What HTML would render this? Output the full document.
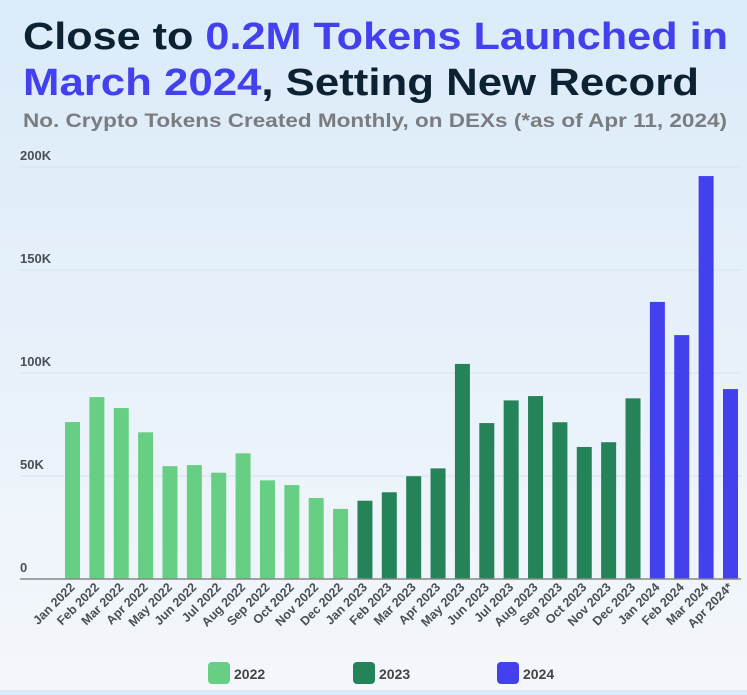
<!DOCTYPE html>
<html><head><meta charset="utf-8"><style>
html,body{margin:0;padding:0;}
body{width:747px;height:690px;overflow:hidden;background:linear-gradient(#dbebf9,#f4f7fb);font-family:"Liberation Sans",sans-serif;}
</style></head><body>
<svg id="chart" width="747" height="690" xmlns="http://www.w3.org/2000/svg" font-family="Liberation Sans, sans-serif">
<text x="23" y="49" font-size="38" font-weight="bold" fill="#0c2233" textLength="705" lengthAdjust="spacingAndGlyphs">Close to <tspan fill="#4340ee">0.2M Tokens Launched in</tspan></text>
<text x="23" y="95" font-size="38" font-weight="bold" fill="#0c2233" textLength="676" lengthAdjust="spacingAndGlyphs"><tspan fill="#4340ee">March 2024</tspan>, Setting New Record</text>
<text x="23" y="127" font-size="19" font-weight="bold" fill="#7a7d80" textLength="704" lengthAdjust="spacingAndGlyphs">No. Crypto Tokens Created Monthly, on DEXs (*as of Apr 11, 2024)</text>
<g id="grid"></g><g id="bars"></g><g id="xlabels"></g>
<line x1="20" y1="579" x2="741" y2="579" stroke="#888" stroke-width="1.5"/>
<g>
<rect x="208" y="662" width="22" height="22" rx="4" fill="#67cf84"/>
<text x="234" y="679" font-size="14" font-weight="bold" fill="#444">2022</text>
<rect x="353" y="662" width="22" height="22" rx="4" fill="#25835a"/>
<text x="379" y="679" font-size="14" font-weight="bold" fill="#444">2023</text>
<rect x="497" y="662" width="22" height="22" rx="4" fill="#4340ee"/>
<text x="523" y="679" font-size="14" font-weight="bold" fill="#444">2024</text>
</g>
</svg>
<script>
const categories=["Jan 2022","Feb 2022","Mar 2022","Apr 2022","May 2022","Jun 2022","Jul 2022","Aug 2022","Sep 2022","Oct 2022","Nov 2022","Dec 2022","Jan 2023","Feb 2023","Mar 2023","Apr 2023","May 2023","Jun 2023","Jul 2023","Aug 2023","Sep 2023","Oct 2023","Nov 2023","Dec 2023","Jan 2024","Feb 2024","Mar 2024","Apr 2024*"];
const values=[76.2,88.3,83,71.2,54.8,55.3,51.6,61,47.9,45.6,39.3,34,38,42.1,49.9,53.7,104.4,75.7,86.7,88.8,76.1,64.1,66.4,87.7,134.5,118.4,195.6,92.2];
const years=["2022","2022","2022","2022","2022","2022","2022","2022","2022","2022","2022","2022","2023","2023","2023","2023","2023","2023","2023","2023","2023","2023","2023","2023","2024","2024","2024","2024"];
const yTicks=[0,50,100,150,200];
const yTickLabels=["0","50K","100K","150K","200K"];
const colors={"2022":"#67cf84","2023":"#25835a","2024":"#4340ee"};
const NS="http://www.w3.org/2000/svg";
const base=579, top0=167, yMax=200, x0=65, pitch=24.37, bw=15;
function y(v){return base-(v/yMax)*(base-top0);}
function x(i){return x0+i*pitch;}
const grid=document.getElementById('grid');
yTicks.forEach((t,i)=>{
 if(t>0){const l=document.createElementNS(NS,'line');
 
 
 l.setAttribute('x1',20);l.setAttribute('x2',741);l.setAttribute('y1',y(t));l.setAttribute('y2',y(t));
 l.setAttribute('stroke','#d6e2ec');l.setAttribute('stroke-width','1');grid.appendChild(l);}
 const tx=document.createElementNS(NS,'text');
 
 
 tx.setAttribute('x',20);tx.setAttribute('y',y(t)-7);tx.setAttribute('font-size','13');tx.setAttribute('font-weight','bold');tx.setAttribute('fill','#4a4f55');
 tx.textContent=yTickLabels[i];grid.appendChild(tx);
});
const bars=document.getElementById('bars'), xl=document.getElementById('xlabels');
values.forEach((v,i)=>{
 const r=document.createElementNS(NS,'rect');
 
 
 r.setAttribute('x',x(i));r.setAttribute('y',y(v));r.setAttribute('width',bw);r.setAttribute('height',base-y(v));
 r.setAttribute('fill',colors[years[i]]);bars.appendChild(r);
 const t=document.createElementNS(NS,'text');
 
 
 const cx=x(i)+bw/2+3, cy=588;
 t.setAttribute('x',cx);t.setAttribute('y',cy);t.setAttribute('text-anchor','end');
 t.setAttribute('transform','rotate(-45 '+cx+' '+cy+')');
 t.setAttribute('font-size','12.5');t.setAttribute('font-weight','bold');t.setAttribute('fill','#4a4f55');
 t.textContent=categories[i];xl.appendChild(t);
});
</script>
</body></html>
